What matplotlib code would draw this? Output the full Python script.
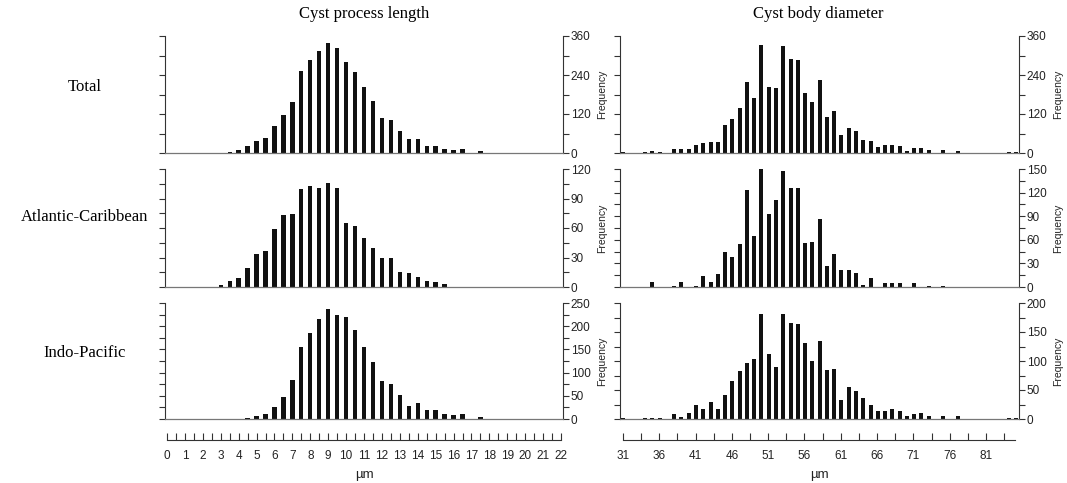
import numpy as np
import matplotlib.pyplot as plt
from matplotlib.ticker import MultipleLocator, FixedLocator

# process length bins (µm), 0.5 µm wide
proc_bins = np.arange(3.0, 18.0, 0.5)
proc_total = [1, 4, 8, 22, 38, 45, 83, 118, 156, 253, 285, 313, 340, 323, 281,
              249, 204, 159, 109, 103, 67, 42, 42, 22, 21, 11, 9, 12, 0, 5]
proc_atlantic = [2, 6, 9, 19, 34, 37, 59, 73, 74, 100, 103, 101, 106, 101, 65,
                 62, 50, 40, 30, 29, 15, 14, 10, 6, 5, 3, 0, 0, 0, 0]
proc_indo = [0, 0, 0, 3, 6, 10, 26, 48, 83, 155, 185, 215, 238, 225, 220,
             191, 155, 122, 81, 75, 52, 28, 34, 19, 19, 10, 9, 11, 0, 5]

# body diameter bins (µm), 1 µm wide
body_bins = np.arange(31, 86)
body_total = [2, 0, 0, 2, 7, 2, 0, 11, 11, 12, 24, 31, 35, 34, 86, 104, 137,
              219, 168, 331, 204, 201, 329, 290, 287, 186, 157, 224, 111, 130,
              55, 77, 68, 39, 36, 18, 24, 25, 22, 6, 16, 14, 8, 0, 8, 0, 6,
              0, 0, 0, 0, 0, 0, 2, 2]
body_atlantic = [0, 0, 0, 0, 6, 0, 0, 1, 6, 0, 1, 14, 6, 17, 44, 38, 55, 123,
                 65, 151, 93, 111, 148, 126, 126, 56, 57, 87, 27, 42, 21, 22,
                 18, 2, 11, 0, 5, 5, 5, 0, 5, 0, 1, 0, 1, 0, 0,
                 0, 0, 0, 0, 0, 0, 0, 0]
body_indo = [2, 0, 0, 2, 2, 2, 0, 8, 4, 11, 24, 17, 29, 17, 42, 66, 82, 96,
             103, 181, 112, 90, 181, 165, 163, 131, 100, 135, 84, 87, 33, 55,
             48, 36, 24, 14, 14, 17, 14, 5, 8, 11, 5, 0, 5, 0, 5,
             0, 0, 0, 0, 0, 0, 2, 2]

row_names = ["Total", "Atlantic-Caribbean", "Indo-Pacific"]
proc_rows = [proc_total, proc_atlantic, proc_indo]
body_rows = [body_total, body_atlantic, body_indo]
proc_ymax = [360, 120, 250]
body_ymax = [360, 150, 200]
proc_major = [120, 30, 50]
body_major = [120, 30, 50]

W, H = 1067, 483
fig = plt.figure(figsize=(W / 100, H / 100), dpi=100)
sans = ["Liberation Sans", "DejaVu Sans"]
serif = ["Liberation Serif", "DejaVu Serif"]
plt.rcParams["font.family"] = sans


def px_axes(x0, y0, x1, y1):
    return fig.add_axes([x0 / W, 1 - y1 / H, (x1 - x0) / W, (y1 - y0) / H])


def style_panel(ax, ymax, major):
    ax.set_ylim(0, ymax)
    ax.spines["top"].set_visible(False)
    for side in ("left", "right"):
        ax.spines[side].set_color("#333333")
        ax.spines[side].set_linewidth(0.8)
    ax.spines["bottom"].set_color("#777777")
    ax.spines["bottom"].set_linewidth(0.9)
    ax.set_xticks([])
    ax.yaxis.set_major_locator(MultipleLocator(major))
    ax.yaxis.set_minor_locator(MultipleLocator(major / 2))
    ax.tick_params(axis="y", which="both", left=True, right=True,
                   labelleft=False, labelright=True, direction="out",
                   length=4, width=0.8, color="#333333", labelsize=8.5,
                   labelcolor="#222222", pad=1.5)
    ax.yaxis.set_label_position("right")
    ax.set_ylabel("Frequency", fontsize=7.5, color="#222222", labelpad=5)


rows_y = [(36, 153), (169, 287), (303, 419)]
label_y = [87, 217, 353]
for i, (y0, y1) in enumerate(rows_y):
    ax = px_axes(165, y0, 563, y1)
    ax.bar(proc_bins, proc_rows[i], width=0.24, color="#111111")
    ax.set_xlim(-0.11, 22.11)
    style_panel(ax, proc_ymax[i], proc_major[i])

    ax = px_axes(620, y0, 1019, y1)
    ax.bar(body_bins, body_rows[i], width=0.55, color="#111111")
    ax.set_xlim(30.55, 85.42)
    style_panel(ax, body_ymax[i], body_major[i])

    fig.text(85 / W, 1 - label_y[i] / H, row_names[i],
             family=serif, fontsize=12, ha="center", va="center")


def ruler(x0, x1, lo, hi, major, minor, start):
    ax = px_axes(x0, 420, x1, 440)
    ax.set_xlim(lo, hi)
    ax.set_yticks([])
    for side in ("top", "left", "right"):
        ax.spines[side].set_visible(False)
    ax.spines["bottom"].set_color("#333333")
    ax.spines["bottom"].set_linewidth(0.8)
    ax.xaxis.set_major_locator(FixedLocator(np.arange(start, hi + 0.01, major)))
    ax.xaxis.set_minor_locator(FixedLocator(np.arange(start, hi + 0.01, minor)))
    ax.tick_params(axis="x", which="both", direction="in", length=5,
                   width=0.8, color="#333333", labelsize=8.5,
                   labelcolor="#222222", pad=7)
    ax.set_xlabel("µm", fontsize=9.5, color="#222222", labelpad=5)
    ax.patch.set_visible(False)


ruler(167, 561, 0, 22, 1, 0.5, 0)
ruler(623, 1015, 31, 85, 5, 2.5, 31)

fig.text(364 / W, 1 - 14 / H, "Cyst process length", family=serif,
         fontsize=12, ha="center", va="center")
fig.text(818 / W, 1 - 14 / H, "Cyst body diameter", family=serif,
         fontsize=12, ha="center", va="center")

fig.savefig("out.png", dpi=100)
